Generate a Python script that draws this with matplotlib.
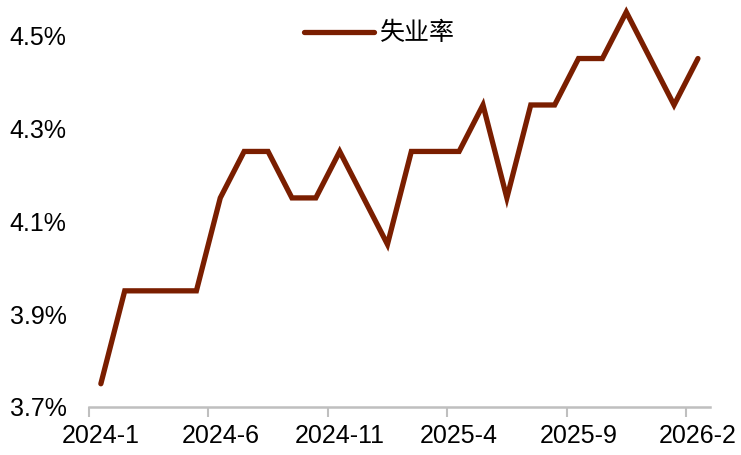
import numpy as np
import matplotlib.pyplot as plt
from matplotlib.ticker import FixedLocator, FuncFormatter

# monthly unemployment rate, 2024-1 .. 2026-2
months = ['2024-1', '2024-2', '2024-3', '2024-4', '2024-5', '2024-6', '2024-7',
          '2024-8', '2024-9', '2024-10', '2024-11', '2024-12', '2025-1', '2025-2',
          '2025-3', '2025-4', '2025-5', '2025-6', '2025-7', '2025-8', '2025-9',
          '2025-10', '2025-11', '2025-12', '2026-1', '2026-2']
rate = [3.75, 3.95, 3.95, 3.95, 3.95, 4.15, 4.25, 4.25, 4.15, 4.15, 4.25, 4.15, 4.05,
        4.25, 4.25, 4.25, 4.35, 4.15, 4.35, 4.35, 4.45, 4.45, 4.55, 4.45, 4.35, 4.45]
series_name = '失业率'
yticks = [3.7, 3.9, 4.1, 4.3, 4.5]

plt.rcParams['font.family'] = ['Liberation Sans', 'Noto Sans CJK SC', 'DejaVu Sans']

fig = plt.figure(figsize=(7.41, 4.55), dpi=100)
ax = fig.add_axes([0.120, 0.1055, 0.838, 0.868])

x = np.arange(len(months))
ax.plot(x, rate, color='#7a1e00', lw=3.8, solid_joinstyle='miter',
        solid_capstyle='round', clip_on=False, label=series_name)

ax.set_xlim(-0.5, len(months) - 0.5)
ax.set_ylim(3.7, 4.55)

# y axis: labels only
ax.set_yticks(yticks)
ax.yaxis.set_major_formatter(FuncFormatter(lambda v, p: f'{v:.1f}%'))
ax.tick_params(axis='y', length=0, pad=16, labelsize=18)

# x axis: tick marks at boundaries, labels every 5 months
ax.xaxis.set_major_locator(FixedLocator(np.arange(-0.5, len(months) - 1, 5)))
ax.xaxis.set_minor_locator(FixedLocator(x[::5]))
ax.set_xticklabels([])
ax.set_xticklabels([months[i] for i in x[::5]], minor=True)
ax.tick_params(axis='x', which='major', length=7, width=1.5, color='#bfbfbf', direction='out')
ax.tick_params(axis='x', which='minor', length=0, pad=12, labelsize=18)

for s in ['left', 'right', 'top']:
    ax.spines[s].set_visible(False)
ax.spines['bottom'].set_color('#bfbfbf')
ax.spines['bottom'].set_linewidth(1.8)

leg = ax.legend(loc='upper center', bbox_to_anchor=(0.468, 1.036), frameon=False,
                handlelength=2.8, handletextpad=0.25,
                prop={'family': ['Noto Sans CJK SC'], 'size': 18})

fig.savefig('out.png', dpi=100)
